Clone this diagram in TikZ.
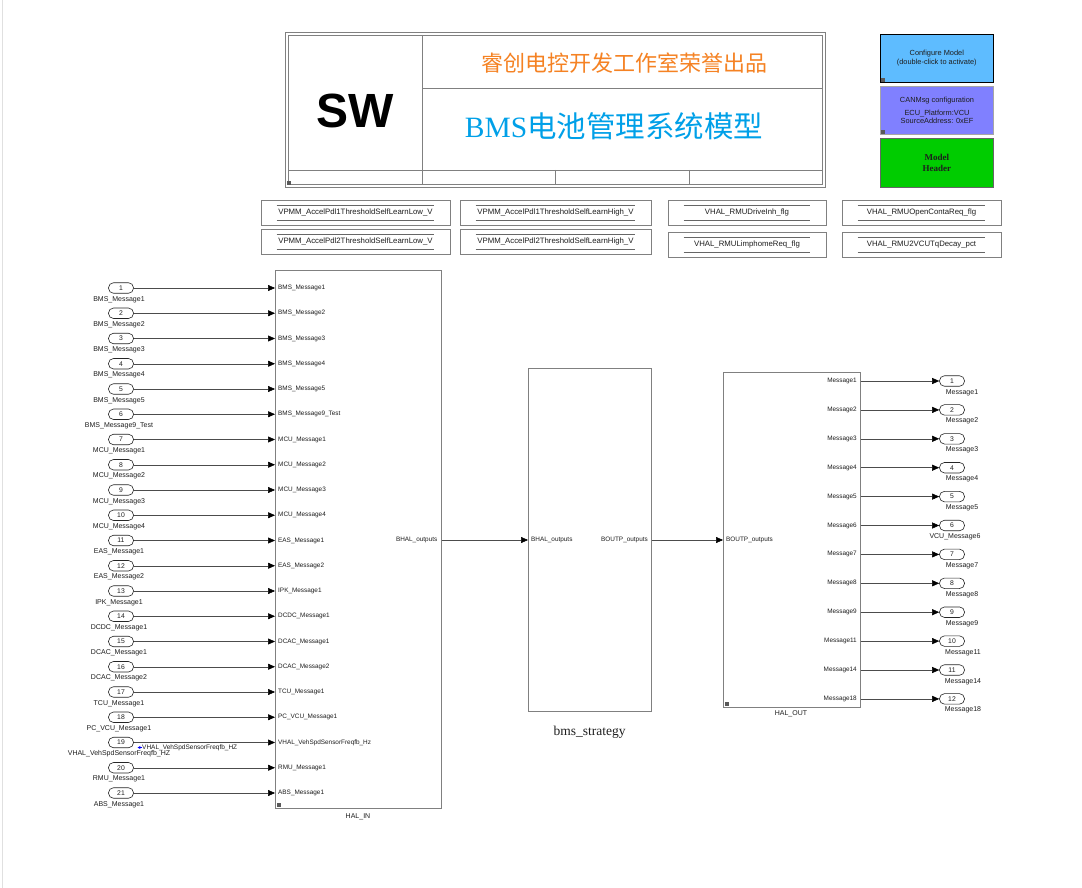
\documentclass[tikz,border=0pt]{standalone}
\usepackage{fontspec}
\setmainfont{Liberation Sans}
\newfontfamily\serifont{Liberation Serif}
\newfontfamily\cjk{Noto Sans CJK SC}
\usetikzlibrary{arrows.meta,calc}
\definecolor{titleorange}{RGB}{245,130,35}
\definecolor{titleblue}{RGB}{0,160,232}
\definecolor{cfgblue}{RGB}{94,188,255}
\definecolor{canblue}{RGB}{128,128,255}
\definecolor{hdrgreen}{RGB}{0,204,0}
\definecolor{frame}{RGB}{128,128,128}
\definecolor{txt}{RGB}{30,30,30}
\newcommand\constbox[6]{%
  \node[cbox, minimum width={#4-#2}, minimum height={#5-#3}] (#1) at ({(#2+#4)/2},{(#3+#5)/2}) {#6};
  \draw[cline] ($(#1.north west)+(16,5.5)$) -- ($(#1.north east)+(-16,5.5)$);
  \draw[cline] ($(#1.south west)+(16,-5.5)$) -- ($(#1.south east)+(-16,-5.5)$);
}
\newcommand\linkicon[2]{\fill[black!65] (#1,#2) rectangle ++(4,-4);}
\begin{document}
\begin{tikzpicture}[x=1pt,y=-1pt,
  blk/.style={draw=frame, line width=0.7pt, fill=white, inner sep=0pt, anchor=north west},
  cbox/.style={draw=frame, line width=0.6pt, inner sep=0pt, font=\fontsize{7.8}{8}\selectfont, text=txt},
  cline/.style={draw=black!60, line width=0.5pt},
  portio/.style={draw=black!85, line width=0.6pt, rounded corners=5pt, minimum width=25pt, minimum height=10.5pt, inner sep=0pt, font=\fontsize{6.8}{7}\selectfont, text=txt},
  sig/.style={draw=black!70, line width=0.5pt, -{Triangle[length=7pt,width=6pt,color=black]}},
  lbl/.style={font=\fontsize{7}{8}\selectfont, text=txt, inner sep=0pt},
  plbl/.style={font=\fontsize{6.4}{7}\selectfont, text=txt, inner sep=0pt},
  sidebox/.style={minimum width=113pt, inner sep=0pt, anchor=north west, align=center, font=\fontsize{7.4}{8.6}\selectfont, text=txt}
]
\useasboundingbox (0,0) rectangle (1082,888);
\fill[white] (0,0) rectangle (1082,888);
\draw[black!12, line width=0.8pt] (2.5,0) -- (2.5,888);

% ---------- title block ----------
\draw[frame, line width=0.7pt] (285,32) rectangle (825,187);
\draw[frame, line width=0.7pt] (288,35) rectangle (822,184);
\draw[frame, line width=0.6pt] (422,35) -- (422,184);
\draw[frame, line width=0.6pt] (422,88) -- (822,88);
\draw[frame, line width=0.6pt] (288,170) -- (822,170);
\draw[frame, line width=0.6pt] (555,170) -- (555,184);
\draw[frame, line width=0.6pt] (689,170) -- (689,184);
\node[font=\fontsize{48}{48}\selectfont\bfseries, inner sep=0pt] (sw) at (355,111) {SW};
\node[font=\cjk\fontsize{22}{24}\selectfont, text=titleorange, inner sep=0pt] (t1) at (624,63) {睿创电控开发工作室荣誉出品};
\node[text=titleblue, inner sep=0pt] (t2) at (614,126) {\fontsize{29.5}{32}\selectfont{\serifont BMS}{\cjk 电池管理系统模型}};
\linkicon{287}{185}

% ---------- side blocks ----------
\node[sidebox, draw=black, line width=0.6pt, fill=cfgblue, minimum height=48pt] (cfg) at (880,34) {Configure Model\\(double-click to activate)};
\node[sidebox, draw=black!35, line width=1pt, fill=canblue, minimum height=48pt] (can) at (880,86) {CANMsg configuration\\[4pt]ECU\_Platform:VCU\\SourceAddress: 0xEF};
\node[sidebox, draw=black!60, line width=0.6pt, fill=hdrgreen, minimum height=49pt, font=\serifont\bfseries\fontsize{9}{10.5}\selectfont] (hdr) at (880,138) {Model\\Header};
\linkicon{881}{82}
\linkicon{881}{134}

% ---------- constant boxes ----------
\constbox{c1}{261}{200}{450}{225}{VPMM\_AccelPdl1ThresholdSelfLearnLow\_V}
\constbox{c2}{460}{200}{651}{225}{VPMM\_AccelPdl1ThresholdSelfLearnHigh\_V}
\constbox{c3}{668}{200}{826}{225}{VHAL\_RMUDriveInh\_flg}
\constbox{c4}{842}{200}{1001}{225}{VHAL\_RMUOpenContaReq\_flg}
\constbox{c5}{261}{229}{450}{254}{VPMM\_AccelPdl2ThresholdSelfLearnLow\_V}
\constbox{c6}{460}{229}{651}{254}{VPMM\_AccelPdl2ThresholdSelfLearnHigh\_V}
\constbox{c7}{668}{232}{826}{257}{VHAL\_RMULimphomeReq\_flg}
\constbox{c8}{842}{232}{1001}{257}{VHAL\_RMU2VCUTqDecay\_pct}

% ---------- main blocks ----------
\node[blk, minimum width=166pt, minimum height=538pt] (halin) at (275,270) {};
\node[lbl, anchor=north] (halinlbl) at (358,813) {HAL\_IN};
\linkicon{277}{807}
\node[blk, minimum width=123pt, minimum height=343pt] (strat) at (528,368) {};
\node[inner sep=0pt, anchor=north, font=\serifont\fontsize{13.5}{14}\selectfont, text=txt] (stratlbl) at (589.5,726) {bms\_strategy};
\node[blk, minimum width=137pt, minimum height=335pt] (halout) at (723,372) {};
\node[lbl, anchor=north] (haloutlbl) at (791,710) {HAL\_OUT};
\linkicon{725}{706}

% ---------- inputs ----------
\foreach \a/\b [count=\i] in {BMS\_Message1/BMS\_Message1, BMS\_Message2/BMS\_Message2, BMS\_Message3/BMS\_Message3, BMS\_Message4/BMS\_Message4, BMS\_Message5/BMS\_Message5, BMS\_Message9\_Test/BMS\_Message9\_Test, MCU\_Message1/MCU\_Message1, MCU\_Message2/MCU\_Message2, MCU\_Message3/MCU\_Message3, MCU\_Message4/MCU\_Message4, EAS\_Message1/EAS\_Message1, EAS\_Message2/EAS\_Message2, IPK\_Message1/IPK\_Message1, DCDC\_Message1/DCDC\_Message1, DCAC\_Message1/DCAC\_Message1, DCAC\_Message2/DCAC\_Message2, TCU\_Message1/TCU\_Message1, PC\_VCU\_Message1/PC\_VCU\_Message1, VHAL\_VehSpdSensorFreqfb\_HZ/VHAL\_VehSpdSensorFreqfb\_Hz, RMU\_Message1/RMU\_Message1, ABS\_Message1/ABS\_Message1} {
  \pgfmathsetmacro\yy{288+(\i-1)*25.25}
  \node[portio] (in\i) at (121,\yy) {\i};
  \node[lbl, anchor=north] (inl\i) at (119,\yy+8) {\a};
  \node[plbl, anchor=west] (hp\i) at (278,\yy) {\b};
  \draw[sig] (in\i.east) -- (halin.west |- in\i.east);
}
\node[plbl, anchor=west, font=\fontsize{6.5}{7}\selectfont] (sl19) at (142,\fpeval{288+18*25.25+5}) {VHAL\_VehSpdSensorFreqfb\_HZ};
\draw[blue, line width=0.6pt, -{Stealth[length=3pt,width=3pt]}] (sl19.west) -- ++(-4.5,0);

% ---------- middle connections ----------
\node[plbl, anchor=east] (bhalo) at (437.5,540) {BHAL\_outputs};
\node[plbl, anchor=west] (bhali) at (531,540) {BHAL\_outputs};
\node[plbl, anchor=east] (boutpo) at (648,540) {BOUTP\_outputs};
\node[plbl, anchor=west] (boutpi) at (726,540) {BOUTP\_outputs};
\draw[sig] (halin.east |- bhalo) -- (strat.west |- bhalo);
\draw[sig] (strat.east |- boutpo) -- (halout.west |- boutpo);

% ---------- outputs ----------
\foreach \a/\b/\c [count=\j] in {Message1/Message1/962, Message2/Message2/962, Message3/Message3/962, Message4/Message4/962, Message5/Message5/962, Message6/VCU\_Message6/955, Message7/Message7/962, Message8/Message8/962, Message9/Message9/962, Message11/Message11/963, Message14/Message14/963, Message18/Message18/963} {
  \pgfmathsetmacro\yy{381+(\j-1)*28.9}
  \node[plbl, anchor=east] (op\j) at (857,\yy) {\a};
  \node[portio] (out\j) at (952,\yy) {\j};
  \node[lbl, anchor=north] (outl\j) at (\c,\yy+8) {\b};
  \draw[sig] (halout.east |- out\j.west) -- (out\j.west);
}
\end{tikzpicture}
\end{document}
